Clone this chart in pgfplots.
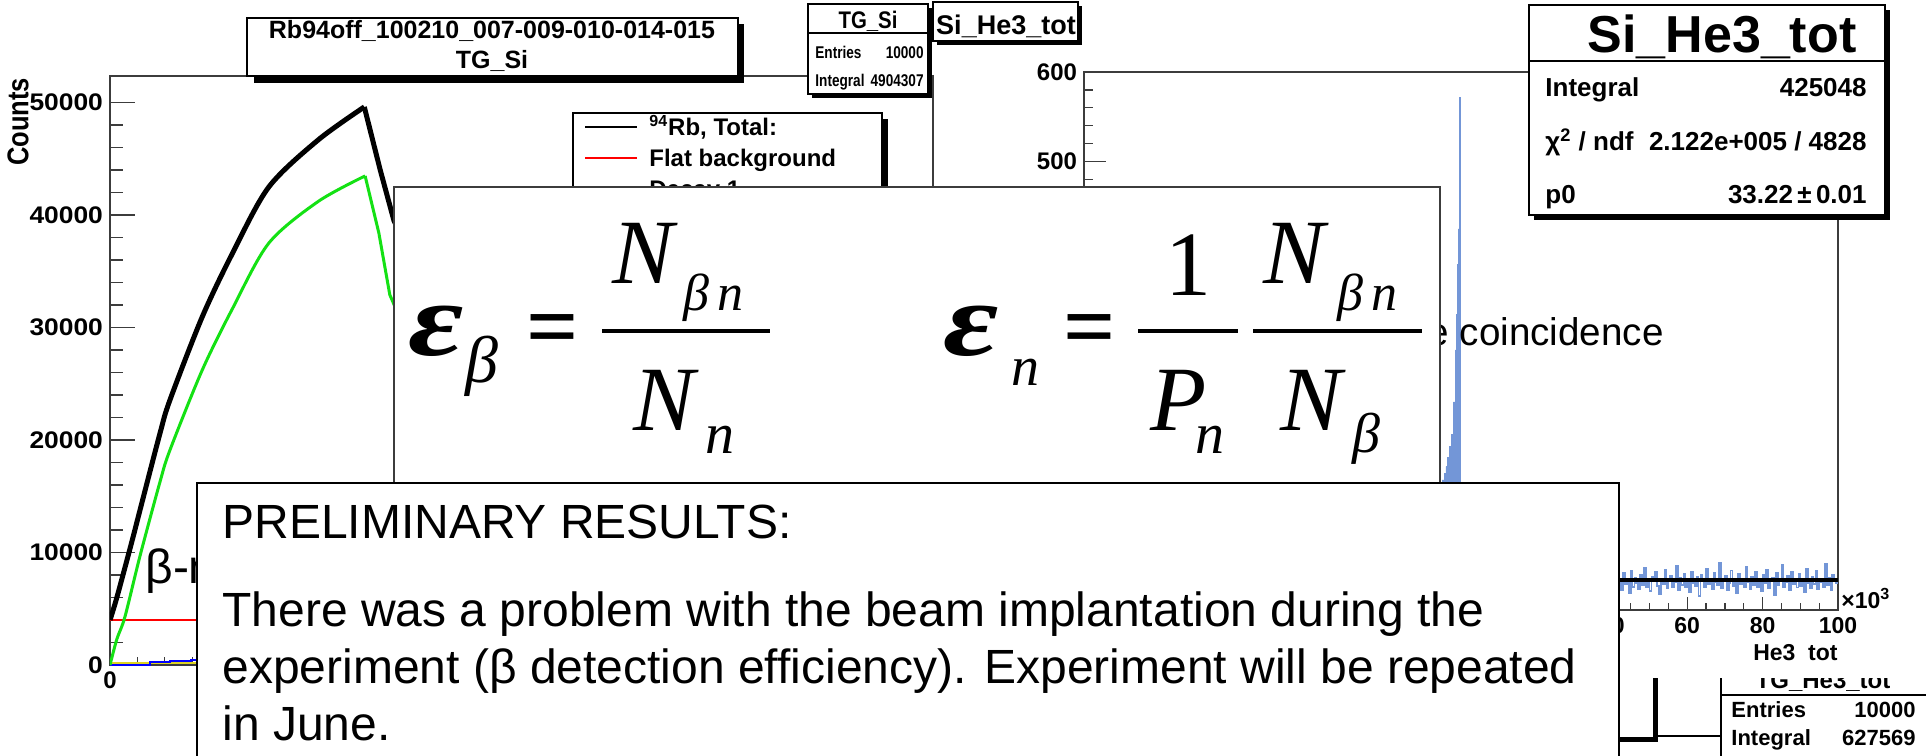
\documentclass[border=0pt]{standalone}
\usepackage{fontspec}
\setmainfont{Liberation Sans}
\newfontfamily\tms{Liberation Serif}
\usepackage{graphicx}
\usepackage{pgfplots}
\pgfplotsset{compat=1.18}
\definecolor{rgreen}{RGB}{20,225,20}
\definecolor{hblue}{RGB}{115,150,215}
\definecolor{frm}{RGB}{60,60,60}
\newcommand\fs[1]{\fontsize{#1}{#1}\selectfont}
\newcommand\nx[2]{\scalebox{#1}[1]{#2}}
\begin{document}
\begin{tikzpicture}
\useasboundingbox (0,0) rectangle (963pt,-377.5pt);
\clip (0,0) rectangle (963pt,-377.5pt);
\fill[white] (0,0) rectangle (963pt,-377.5pt);

% ---------------- left ROOT pad: TG_Si ----------------
\begin{axis}[
  at={(55pt,-332.5pt)}, anchor=south west, scale only axis,
  width=411.5pt, height=294.5pt,
  xmin=0, xmax=6, ymin=0, ymax=52350,
  axis line style={frm, line width=0.6pt},
  tick pos=left, tick align=inside,
  xtick={0,1,...,6}, minor x tick num=4,
  xticklabels={0,,,,,,},
  ytick={0,10000,20000,30000,40000,50000}, minor y tick num=4,
  major tick length=12.5pt, minor tick length=6.5pt,
  xtick style={/pgfplots/major tick length=8pt,/pgfplots/minor tick length=4pt},
  every tick/.style={frm, line width=0.6pt},
  scaled ticks=false,
  ticklabel style={font=\bfseries\fs{12}},
  yticklabel={\nx{1.1}{\pgfmathprintnumber{\tick}}},
  /pgf/number format/assume math mode=true,
  /pgf/number format/1000 sep={},
]
\addplot[yellow!85!black, line width=1pt] coordinates {(0,150)(6,150)};
\addplot[blue, line width=1pt, const plot] coordinates {(0,0)(0.29,0)(0.29,250)(0.44,330)(0.59,420)(0.8,520)(1.2,700)(1.85,1000)(2.5,900)(4,600)(6,400)};
\addplot[red, line width=1pt] coordinates {(0,4000)(6,4000)};
% green (Decay 1): rise and decay
\addplot[rgreen, line width=1.5pt, smooth] coordinates {(0,0)(0.05,2300)(0.109,4290)(0.219,9700)(0.365,16300)(0.437,19100)(0.672,26200)(0.894,31700)(1.158,37500)(1.518,41200)(1.86,43470)};
\addplot[rgreen, line width=1.5pt] coordinates {(1.86,43470)(1.96,38400)(2.04,32900)(2.5,20000)(3,12000)(4,4500)(5,1700)(6,600)};
% black (total)
\addplot[black, line width=2.5pt, smooth] coordinates {(0,4000)(0.05,6000)(0.158,10900)(0.219,13780)(0.365,20620)(0.437,23550)(0.672,30930)(0.894,36620)(1.158,42490)(1.518,46670)(1.854,49600)};
\addplot[black, line width=2.5pt] coordinates {(1.854,49600)(1.97,44000)(2.07,39500)(2.5,29000)(3,21000)(4,11000)(5,7000)(6,5500)};
\end{axis}

% ---------------- bottom-right pad: TG_He3_tot (mostly hidden) ----------------
\begin{scope}
\clip (800pt,-339pt) rectangle (963pt,-377.5pt);
\begin{axis}[
  at={(800pt,-377.5pt)}, anchor=south west, scale only axis,
  width=60.5pt, height=38.5pt, hide axis,
  xmin=0, xmax=1, ymin=0, ymax=1, clip=false]
\addplot[black, line width=2.5pt] coordinates {(0.14,0.195)(0.455,0.195)(0.455,1.05)};
\addplot[black, line width=0.6pt] coordinates {(0.455,0.247)(1.0,0.247)};
\end{axis}
\begin{scope}[x=0.5pt,y=-0.5pt]
\filldraw[fill=white, draw=black, line width=0.6pt] (1721,668) rectangle (1935,770);
\draw[black, line width=0.6pt] (1721,695) -- (1935,695);
\node[anchor=base, inner sep=0, font=\bfseries\fs{12}] at (1823,688) {TG\_He3\_tot};
\node[anchor=base west, inner sep=0, font=\bfseries\fs{11}] at (1731,717) {Entries};
\node[anchor=base east, inner sep=0, font=\bfseries\fs{11}] at (1916,717) {10000};
\node[anchor=base west, inner sep=0, font=\bfseries\fs{11}] at (1731,745) {Integral};
\node[anchor=base east, inner sep=0, font=\bfseries\fs{11}] at (1916,745) {627569};
\end{scope}
\end{scope}

% ---------------- left pad overlays ----------------
\begin{scope}[x=0.5pt,y=-0.5pt]
\node[rotate=90, inner sep=0, font=\bfseries\fs{15}] at (18,122) {\nx{0.85}{Counts}};
% title box
\fill[black] (254,24) rectangle (744,83);
\filldraw[fill=white, draw=black, line width=0.6pt] (247,18) rectangle (738,76);
\node[anchor=base, inner sep=0, font=\bfseries\fs{12.5}] at (492,39) {Rb94off\_100210\_007-009-010-014-015};
\node[anchor=base, inner sep=0, font=\bfseries\fs{12.5}] at (492,68) {TG\_Si};
% legend
\fill[black] (579,119) rectangle (888,206);
\filldraw[fill=white, draw=black, line width=0.6pt] (573,113) rectangle (882,200);
\draw[black, line width=1.3pt] (585,127) -- (637,127);
\node[anchor=base west, inner sep=0, font=\bfseries\fs{12}] at (649,135) {\textsuperscript{94}Rb, Total:};
\draw[red, line width=1.3pt] (585,158) -- (637,158);
\node[anchor=base west, inner sep=0, font=\bfseries\fs{12}] at (649,166) {Flat background};
\draw[rgreen, line width=1.3pt] (585,189) -- (637,189);
\node[anchor=base west, inner sep=0, font=\bfseries\fs{12}] at (649,197) {Decay 1};
\end{scope}

% ---------------- right pad: Si_He3_tot ----------------
\begin{axis}[
  at={(542pt,-305pt)}, anchor=south west, scale only axis,
  width=377pt, height=269pt,
  xmin=-100, xmax=100, ymin=0, ymax=600,
  axis line style={frm, line width=0.6pt},
  tick pos=left, tick align=inside,
  xtick={-100,-80,...,100}, minor x tick num=3,
  xticklabels={,,,,,,,40,60,80,100},
  ytick={0,100,...,600}, minor y tick num=4,
  yticklabels={,,,,,500,600},
  major tick length=11pt, minor tick length=4.5pt,
  xtick style={/pgfplots/major tick length=6.5pt,/pgfplots/minor tick length=3.5pt},
  every tick/.style={frm, line width=0.6pt},
  scaled ticks=false,
  yticklabel style={font=\bfseries\fs{12}},
  xticklabel style={font=\bfseries\fs{11.5}},
]
\addplot[hblue, line width=0.9pt, const plot] coordinates {(-100,32)(-90,28)(-80,35)(-70,30)(-60,33)(-50,29)(-40,34)(-30,31)(-20,36)(-10,45)(-6,38)};
\addplot[hblue, fill=hblue, line width=0.4pt, const plot] coordinates {(-6,38)(-5.5,135)(-5,145)(-4.5,152)(-4,160)(-3.5,170)(-3,182)(-2.5,196)(-2,232)(-1.5,290)(-1.25,330)(-1,385)(-0.75,425)(-0.5,455)(-0.3,572)(-0.2,40)(0.5,32)} \closedcycle;
\addplot[hblue, line width=0.9pt, const plot] coordinates {(0.5,32)(10,30)(20,34)(30,29)(40,31)};
\addplot[hblue, line width=0.9pt, const plot] coordinates {
(40,31)(40.5,24)(41,38)(41.5,27)(42,35)(42.5,22)(43,41)(43.5,29)(44,33)(44.5,19)(45,44)(45.5,26)(46,36)(46.5,30)(47,23)(47.5,39)(48,28)(48.5,47)(49,25)(49.5,34)
(50,21)(50.5,37)(51,32)(51.5,42)(52,27)(52.5,18)(53,35)(53.5,29)(54,45)(54.5,24)(55,33)(55.5,38)(56,26)(56.5,31)(57,49)(57.5,22)(58,36)(58.5,28)(59,40)(59.5,25)
(60,34)(60.5,20)(61,43)(61.5,30)(62,27)(62.5,37)(63,16)(63.5,39)(64,32)(64.5,26)(65,46)(65.5,29)(66,35)(66.5,23)(67,41)(67.5,31)(68,28)(68.5,52)(69,24)(69.5,33)
(70,38)(70.5,22)(71,30)(71.5,44)(72,27)(72.5,35)(73,19)(73.5,40)(74,29)(74.5,34)(75,25)(75.5,48)(76,31)(76.5,23)(77,37)(77.5,28)(78,42)(78.5,26)(79,33)(79.5,21)
(80,39)(80.5,30)(81,45)(81.5,24)(82,32)(82.5,36)(83,17)(83.5,41)(84,28)(84.5,34)(85,50)(85.5,26)(86,31)(86.5,38)(87,22)(87.5,43)(88,29)(88.5,35)(89,25)(89.5,40)
(90,27)(90.5,33)(91,20)(91.5,46)(92,30)(92.5,24)(93,37)(93.5,29)(94,44)(94.5,23)(95,35)(95.5,31)(96,26)(96.5,51)(97,28)(97.5,36)(98,22)(98.5,39)(99,32)(99.5,30)(100,30)};
\addplot[black, line width=1.8pt] coordinates {(-100,33.22)(100,33.22)};
\end{axis}

\begin{scope}[x=0.5pt,y=-0.5pt]
% small title box of the right pad
\fill[black] (937,6) rectangle (1082,45);
\filldraw[fill=white, draw=black, line width=0.6pt] (933,2) rectangle (1078,41);
\node[anchor=base, inner sep=0, font=\bfseries\fs{13.5}] at (1006,34) {Si\_He3\_tot};
% TG_Si stats box (left pad)
\fill[black] (812,8) rectangle (932,98);
\filldraw[fill=white, draw=black, line width=0.6pt] (808,4) rectangle (928,94);
\draw[black, line width=0.6pt] (808,33) -- (928,33);
\node[anchor=base, inner sep=0, font=\bfseries\fs{12}] at (868,28) {\nx{0.85}{TG\_Si}};
\node[anchor=base west, inner sep=0, font=\bfseries\fs{8.5}] at (815,58) {\nx{0.8}{Entries}};
\node[anchor=base east, inner sep=0, font=\bfseries\fs{8.5}] at (924,58) {\nx{0.8}{10000}};
\node[anchor=base west, inner sep=0, font=\bfseries\fs{8.5}] at (815,86) {\nx{0.8}{Integral}};
\node[anchor=base east, inner sep=0, font=\bfseries\fs{8.5}] at (924,86) {\nx{0.8}{4904307}};
% big stats box
\fill[black] (1534,10) rectangle (1890,220);
\filldraw[fill=white, draw=black, line width=0.6pt] (1529,5) rectangle (1885,215);
\draw[black, line width=0.6pt] (1529,61) -- (1885,61);
\node[anchor=base, inner sep=0, font=\bfseries\fs{26}] at (1722,52) {Si\_He3\_tot};
\node[anchor=base west, inner sep=0, font=\bfseries\fs{13}] at (1545,96) {Integral};
\node[anchor=base east, inner sep=0, font=\bfseries\fs{13}] at (1867,96) {425048};
\node[anchor=base west, inner sep=0, font=\bfseries\fs{13}] at (1545,150) {χ\textsuperscript{2} / ndf};
\node[anchor=base east, inner sep=0, font=\bfseries\fs{13}] at (1867,150) {2.122e+005 / 4828};
\node[anchor=base west, inner sep=0, font=\bfseries\fs{13}] at (1545,203) {p0};
\node[anchor=base east, inner sep=0, font=\bfseries\fs{13}] at (1867,203) {33.22\,±\,0.01};
% axis extras
\node[anchor=base west, inner sep=0, font=\bfseries\fs{11.5}] at (1841,608) {×10\textsuperscript{3}};
\node[anchor=base east, inner sep=0, font=\bfseries\fs{11.5}] at (1838,660) {He3\ \ tot};

% ---------------- slide text ----------------
\node[anchor=base west, inner sep=0, font=\fs{24}] at (145,583) {β-n};
\node[anchor=base east, inner sep=0, font=\fs{19.3}] at (1664,345) {the coincidence};

% formula box
\filldraw[fill=white, draw=frm, line width=0.7pt] (394,187) rectangle (1440,483);
\node[anchor=base west, inner sep=0, font=\tms\bfseries\itshape\fs{50}] at (408,355) {\scalebox{1.35}[1.05]{ε}};
\node[anchor=base west, inner sep=0, font=\tms\itshape\fs{33}] at (465,382) {β};
\node[anchor=base, inner sep=0, font=\tms\bfseries\fs{46}] at (553,357) {=};
\draw[black, line width=2pt] (602,331) -- (770,331);
\node[anchor=base west, inner sep=0, font=\tms\itshape\fs{46}] at (612,283) {N};
\node[anchor=base west, inner sep=0, font=\tms\itshape\fs{26}] at (683,310) {β\,n};
\node[anchor=base west, inner sep=0, font=\tms\itshape\fs{46}] at (633,430) {N};
\node[anchor=base west, inner sep=0, font=\tms\itshape\fs{29}] at (705,453) {n};

\node[anchor=base west, inner sep=0, font=\tms\bfseries\itshape\fs{50}] at (943,355) {\scalebox{1.35}[1.05]{ε}};
\node[anchor=base west, inner sep=0, font=\tms\itshape\fs{28}] at (1011,385) {n};
\node[anchor=base, inner sep=0, font=\tms\bfseries\fs{46}] at (1090,357) {=};
\draw[black, line width=2pt] (1138,331) -- (1238,331);
\node[anchor=base, inner sep=0, font=\tms\fs{46}] at (1188,295) {1};
\node[anchor=base west, inner sep=0, font=\tms\itshape\fs{46}] at (1150,430) {P};
\node[anchor=base west, inner sep=0, font=\tms\itshape\fs{29}] at (1195,453) {n};
\draw[black, line width=2pt] (1253,331) -- (1422,331);
\node[anchor=base west, inner sep=0, font=\tms\itshape\fs{46}] at (1263,283) {N};
\node[anchor=base west, inner sep=0, font=\tms\itshape\fs{26}] at (1337,310) {β\,n};
\node[anchor=base west, inner sep=0, font=\tms\itshape\fs{46}] at (1280,430) {N};
\node[anchor=base west, inner sep=0, font=\tms\itshape\fs{28}] at (1352,452) {β};

% preliminary box
\filldraw[fill=white, draw=black, line width=0.7pt] (197,483) rectangle (1619,770);
\node[anchor=base west, inner sep=0, font=\fs{24}] at (222,538) {PRELIMINARY RESULTS:};
\node[anchor=base west, inner sep=0, font=\fs{24}] at (222,626) {There was a problem with the beam implantation during the};
\node[anchor=base west, inner sep=0, font=\fs{24}] at (222,683) {experiment (β detection efficiency). Experiment will be repeated};
\node[anchor=base west, inner sep=0, font=\fs{24}] at (222,740) {in June.};
\end{scope}
\end{tikzpicture}
\end{document}
